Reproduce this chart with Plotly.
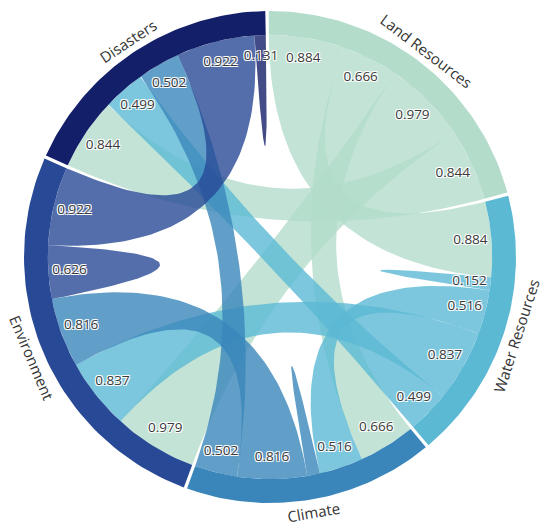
import numpy as np
import plotly.graph_objects as go

# groups clockwise from 12 o'clock
groups = ["Land Resources", "Water Resources", "Climate", "Environment", "Disasters"]
colors = ["#b3dccb", "#5bb9d4", "#3a86ba", "#284a96", "#141f69"]

# symmetric link matrix, one row per group (same order as groups)
land = [0.0, 0.884, 0.666, 0.979, 0.844]
water = [0.884, 0.152, 0.516, 0.837, 0.499]
climate = [0.666, 0.516, 0.150, 0.816, 0.502]
environment = [0.979, 0.837, 0.816, 0.626, 0.922]
disasters = [0.844, 0.499, 0.502, 0.922, 0.131]

hidden = [(2, 2)]  # climate self-loop has no label in the original

matrix = np.array([land, water, climate, environment, disasters])
n = len(groups)

pad = np.radians(0.8)
start = np.radians(-0.3)
r_out, r_in = 1.0, 0.903
k = (2 * np.pi - n * pad) / matrix.sum()

# angles of groups and subgroups (d3.chord style)
sub = {}
grp = []
a = start
for i in range(n):
    g0 = a
    for j in range(n):
        sub[(i, j)] = (a, a + matrix[i, j] * k)
        a += matrix[i, j] * k
    grp.append((g0, a))
    a += pad


def arc(t0, t1, r, m=60):
    t = np.linspace(t0, t1, m)
    return list(r * np.sin(t)), list(r * np.cos(t))


def quad(t0, t1, r, m=60):
    # quadratic bezier between two rim points, control point in the centre
    x0, y0 = r * np.sin(t0), r * np.cos(t0)
    x1, y1 = r * np.sin(t1), r * np.cos(t1)
    t = np.linspace(0, 1, m)
    return list((1 - t) ** 2 * x0 + t ** 2 * x1), list((1 - t) ** 2 * y0 + t ** 2 * y1)


def rgba(hexc, alpha):
    h = hexc.lstrip("#")
    return "rgba(%d,%d,%d,%.2f)" % (int(h[0:2], 16), int(h[2:4], 16), int(h[4:6], 16), alpha)


fig = go.Figure()

# ribbons
for i in range(n):
    for j in range(i, n):
        if matrix[i, j] <= 0:
            continue
        s0, s1 = sub[(i, j)]
        t0, t1 = sub[(j, i)]
        xs, ys = arc(s0, s1, r_in)
        qx, qy = quad(s1, t0, r_in)
        xs += qx; ys += qy
        if i != j:
            ax_, ay_ = arc(t0, t1, r_in)
            xs += ax_; ys += ay_
            qx, qy = quad(t1, s0, r_in)
            xs += qx; ys += qy
        fig.add_trace(go.Scatter(x=xs, y=ys, mode="lines", fill="toself",
                                 fillcolor=rgba(colors[i], 0.8),
                                 line=dict(width=0), hoverinfo="skip"))

# outer group arcs
for i in range(n):
    g0, g1 = grp[i]
    xo, yo = arc(g0, g1, r_out)
    xi, yi = arc(g1, g0, r_in)
    fig.add_trace(go.Scatter(x=xo + xi, y=yo + yi, mode="lines", fill="toself",
                             fillcolor=colors[i], line=dict(width=0), hoverinfo="skip"))

# value labels
lx, ly, lt = [], [], []
for i in range(n):
    for j in range(n):
        if matrix[i, j] <= 0 or (i, j) in hidden:
            continue
        m = sum(sub[(i, j)]) / 2
        lx.append(0.817 * np.sin(m))
        ly.append(0.817 * np.cos(m))
        lt.append("%.3f" % matrix[i, j])
fig.add_trace(go.Scatter(
    x=lx, y=ly, text=lt, mode="text", hoverinfo="skip",
    textfont=dict(family="Open Sans", size=13.5, color="#3a3a3a",
                  shadow="1px 1px 0 #fff, -1px -1px 0 #fff, 1px -1px 0 #fff, -1px 1px 0 #fff")))

# group names along the rim
for i in range(n):
    m = sum(grp[i]) / 2
    deg = np.degrees(m) % 360
    ang = deg - 180 if 90 < deg < 270 else deg
    fig.add_annotation(x=1.05 * np.sin(m), y=1.05 * np.cos(m), text=groups[i],
                       showarrow=False, textangle=ang, xanchor="center", yanchor="middle",
                       font=dict(family="Open Sans", size=15, color="#333333"))

fig.update_layout(
    width=550, height=532,
    margin=dict(l=0, r=0, t=0, b=0),
    showlegend=False,
    paper_bgcolor="white", plot_bgcolor="white",
    xaxis=dict(range=[-270 / 246, 280 / 246], visible=False, fixedrange=True),
    yaxis=dict(range=[-275 / 246, 257 / 246], visible=False, fixedrange=True),
    hovermode=False,
)

fig.write_html("out.html", config={"displayModeBar": False},
               post_script="document.body.style.margin='0';document.body.style.overflow='hidden';")
